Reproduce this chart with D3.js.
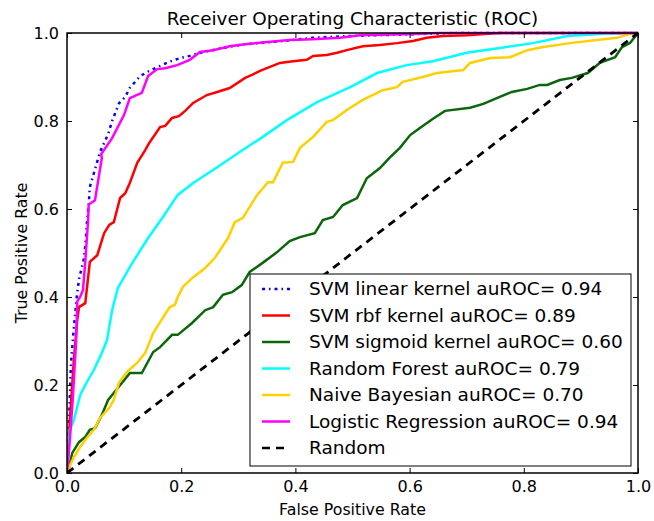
<!DOCTYPE html>
<html>
<head>
<meta charset="utf-8">
<script src="https://cdn.jsdelivr.net/npm/d3@7"></script>
<style>
  body { margin: 0; background: #fff; }
  text { font-family: "DejaVu Sans", sans-serif; fill: #000; }
</style>
</head>
<body>
<div id="roc-chart"></div>
<script>
// ROC curves, points as [fpr, tpr]

const svmLinear = [[0,0],[0.003,0.1],[0.007,0.25],[0.012,0.33],[0.017,0.40],[0.021,0.44],[0.03,0.49],[0.033,0.53],[0.035,0.57],[0.038,0.61],[0.040,0.65],[0.049,0.69],[0.058,0.73],[0.072,0.77],[0.079,0.80],[0.091,0.84],[0.102,0.855],[0.11,0.875],[0.128,0.902],[0.144,0.914],[0.18,0.935],[0.198,0.943],[0.215,0.948],[0.233,0.955],[0.273,0.966],[0.303,0.973],[0.317,0.975],[0.38,0.982],[0.43,0.989],[0.49,0.993],[0.6,0.997],[0.68,1],[1,1]];

const svmRbf = [[0,0],[0.005,0.12],[0.012,0.257],[0.018,0.348],[0.021,0.377],[0.032,0.386],[0.040,0.48],[0.053,0.495],[0.065,0.545],[0.074,0.564],[0.082,0.57],[0.093,0.625],[0.102,0.636],[0.11,0.659],[0.123,0.705],[0.137,0.734],[0.144,0.75],[0.163,0.786],[0.172,0.789],[0.184,0.807],[0.196,0.811],[0.207,0.823],[0.221,0.841],[0.245,0.859],[0.263,0.866],[0.285,0.875],[0.312,0.898],[0.324,0.905],[0.338,0.914],[0.35,0.92],[0.373,0.932],[0.396,0.936],[0.42,0.939],[0.431,0.948],[0.455,0.95],[0.473,0.955],[0.49,0.961],[0.518,0.97],[0.548,0.973],[0.578,0.977],[0.606,0.982],[0.63,0.989],[0.658,0.993],[0.70,0.995],[0.758,1],[1,1]];

const svmSigmoid = [[0,0],[0.004,0.014],[0.009,0.045],[0.021,0.07],[0.032,0.082],[0.04,0.098],[0.049,0.102],[0.061,0.132],[0.072,0.166],[0.089,0.193],[0.11,0.227],[0.131,0.227],[0.151,0.275],[0.163,0.286],[0.184,0.314],[0.194,0.314],[0.219,0.341],[0.242,0.37],[0.256,0.377],[0.273,0.405],[0.289,0.411],[0.306,0.427],[0.32,0.457],[0.342,0.477],[0.368,0.502],[0.39,0.527],[0.408,0.536],[0.434,0.545],[0.448,0.575],[0.466,0.582],[0.483,0.609],[0.508,0.625],[0.525,0.67],[0.548,0.693],[0.566,0.718],[0.583,0.739],[0.601,0.768],[0.618,0.784],[0.641,0.805],[0.662,0.823],[0.706,0.83],[0.729,0.839],[0.758,0.855],[0.779,0.866],[0.806,0.873],[0.828,0.882],[0.841,0.882],[0.863,0.893],[0.884,0.898],[0.912,0.909],[0.933,0.932],[0.96,0.945],[0.972,0.968],[0.986,0.977],[1,1]];

const randomForest = [[0,0],[0.002,0.04],[0.005,0.098],[0.012,0.12],[0.023,0.177],[0.032,0.2],[0.047,0.234],[0.061,0.273],[0.07,0.302],[0.079,0.37],[0.089,0.42],[0.11,0.468],[0.14,0.53],[0.168,0.582],[0.194,0.632],[0.221,0.659],[0.263,0.695],[0.303,0.73],[0.343,0.764],[0.385,0.802],[0.438,0.843],[0.496,0.877],[0.543,0.909],[0.595,0.927],[0.641,0.936],[0.70,0.955],[0.758,0.966],[0.816,0.977],[0.876,0.993],[0.933,0.998],[0.98,1],[1,1]];

const naiveBayes = [[0,0],[0.004,0.014],[0.012,0.036],[0.023,0.059],[0.035,0.08],[0.047,0.098],[0.058,0.125],[0.074,0.148],[0.082,0.166],[0.091,0.205],[0.105,0.23],[0.124,0.252],[0.137,0.273],[0.151,0.318],[0.163,0.343],[0.18,0.377],[0.189,0.382],[0.194,0.4],[0.203,0.423],[0.221,0.445],[0.242,0.466],[0.259,0.489],[0.282,0.534],[0.294,0.57],[0.308,0.58],[0.333,0.632],[0.352,0.661],[0.361,0.661],[0.378,0.705],[0.396,0.707],[0.408,0.739],[0.431,0.764],[0.455,0.798],[0.466,0.802],[0.49,0.825],[0.518,0.848],[0.553,0.87],[0.578,0.877],[0.588,0.889],[0.623,0.9],[0.648,0.909],[0.694,0.916],[0.706,0.932],[0.741,0.943],[0.776,0.945],[0.806,0.961],[0.834,0.968],[0.881,0.977],[0.928,0.984],[0.963,0.989],[0.991,1],[1,1]];

const logReg = [[0,0],[0.005,0.075],[0.01,0.166],[0.016,0.30],[0.018,0.39],[0.023,0.40],[0.028,0.416],[0.032,0.48],[0.037,0.575],[0.038,0.61],[0.049,0.62],[0.061,0.716],[0.06,0.725],[0.079,0.761],[0.10,0.814],[0.11,0.852],[0.131,0.864],[0.142,0.902],[0.158,0.918],[0.172,0.92],[0.193,0.927],[0.215,0.939],[0.233,0.957],[0.256,0.961],[0.285,0.97],[0.315,0.975],[0.356,0.98],[0.39,0.984],[0.43,0.986],[0.478,0.989],[0.513,0.995],[0.606,0.998],[0.65,1],[1,1]];

const randomLine = [[0,0],[1,1]];

const seriesNames = ["SVM linear kernel auROC= 0.94", "SVM rbf kernel auROC= 0.89", "SVM sigmoid kernel auROC= 0.60",
                     "Random Forest auROC= 0.79", "Naive Bayesian auROC= 0.70", "Logistic Regression auROC= 0.94", "Random"];
const seriesColors = ["#0000ff", "#ff0000", "#0b660b", "#00ffff", "#ffd000", "#ff00ff", "#000000"];
const seriesDash = ["3,4,1.5,4", null, null, null, null, null, "8,6"];
const seriesData = [svmLinear, svmRbf, svmSigmoid, randomForest, naiveBayes, logReg, randomLine];

const tickValues = [0, 0.2, 0.4, 0.6, 0.8, 1.0];

const drawChart = () => {
  const width = 654;
  const height = 521;
  const margin = {top: 33, right: 16, bottom: 48, left: 67};

  const xScale = d3.scaleLinear().domain([0, 1]).range([margin.left, width - margin.right]);
  const yScale = d3.scaleLinear().domain([0, 1]).range([height - margin.bottom, margin.top]);

  const svg = d3.select("#roc-chart")
                .append("svg")
                .attr("width", width)
                .attr("height", height);

  svg.append("clipPath").attr("id", "plot-clip")
     .append("rect")
     .attr("x", margin.left).attr("y", margin.top - 2)
     .attr("width", width - margin.left - margin.right + 2)
     .attr("height", height - margin.top - margin.bottom + 2);

  const line = d3.line()
                 .x((d) => xScale(d[0]))
                 .y((d) => yScale(d[1]));

  svg.append("g")
     .attr("clip-path", "url(#plot-clip)")
     .selectAll("path")
     .data(seriesData)
     .enter()
     .append("path")
     .attr("d", line)
     .attr("fill", "none")
     .attr("stroke", (d, i) => seriesColors[i])
     .attr("stroke-width", (d, i) => i === 6 ? 2.8 : 2.5)
     .attr("stroke-dasharray", (d, i) => seriesDash[i]);

  // axes, ticks pointing inwards on all four sides
  const fmt = d3.format(".1f");
  const plotH = height - margin.top - margin.bottom;
  const plotW = width - margin.left - margin.right;

  svg.append("g")
     .attr("transform", `translate(0,${height - margin.bottom})`)
     .call(d3.axisBottom(xScale).tickValues(tickValues).tickFormat(fmt).tickSizeInner(-5).tickSizeOuter(0).tickPadding(8));
  svg.append("g")
     .attr("transform", `translate(0,${margin.top})`)
     .call(d3.axisTop(xScale).tickValues(tickValues).tickFormat("").tickSizeInner(-5).tickSizeOuter(0));
  svg.append("g")
     .attr("transform", `translate(${margin.left},0)`)
     .call(d3.axisLeft(yScale).tickValues(tickValues).tickFormat(fmt).tickSizeInner(-5).tickSizeOuter(0).tickPadding(8));
  svg.append("g")
     .attr("transform", `translate(${width - margin.right},0)`)
     .call(d3.axisRight(yScale).tickValues(tickValues).tickFormat("").tickSizeInner(-5).tickSizeOuter(0));

  svg.selectAll(".domain").remove();
  svg.selectAll(".tick line").attr("stroke", "#000").attr("stroke-width", 1);
  svg.selectAll(".tick text").style("font-size", "16px").style("font-family", "DejaVu Sans");

  svg.append("rect")
     .attr("x", margin.left).attr("y", margin.top)
     .attr("width", plotW).attr("height", plotH)
     .attr("fill", "none").attr("stroke", "#000").attr("stroke-width", 1.5);

  svg.append("text")
     .attr("x", margin.left + plotW / 2).attr("y", 25)
     .attr("text-anchor", "middle")
     .style("font-size", "18.4px")
     .text("Receiver Operating Characteristic (ROC)");

  svg.append("text")
     .attr("x", margin.left + plotW / 2).attr("y", 515)
     .attr("text-anchor", "middle")
     .style("font-size", "15.8px")
     .text("False Positive Rate");

  svg.append("text")
     .attr("transform", `translate(27,${margin.top + plotH / 2}) rotate(-90)`)
     .attr("text-anchor", "middle")
     .style("font-size", "15.8px")
     .text("True Positive Rate");

  // legend
  const legend = svg.append("g").attr("transform", "translate(250,274)");
  legend.append("rect")
        .attr("width", 381).attr("height", 192)
        .attr("fill", "#fff").attr("stroke", "#000").attr("stroke-width", 1);

  const rows = legend.selectAll("g.row")
                     .data(seriesNames)
                     .enter()
                     .append("g")
                     .attr("class", "row")
                     .attr("transform", (d, i) => `translate(0,${15 + i * 26.5})`);
  rows.append("line")
      .attr("x1", 12).attr("x2", 40)
      .attr("stroke", (d, i) => seriesColors[i])
      .attr("stroke-width", 2.5)
      .attr("stroke-dasharray", (d, i) => seriesDash[i]);
  rows.append("text")
      .attr("x", 59).attr("dy", "0.35em")
      .style("font-size", "18.5px")
      .text((d) => d);
}

drawChart();
</script>
</body>
</html>
